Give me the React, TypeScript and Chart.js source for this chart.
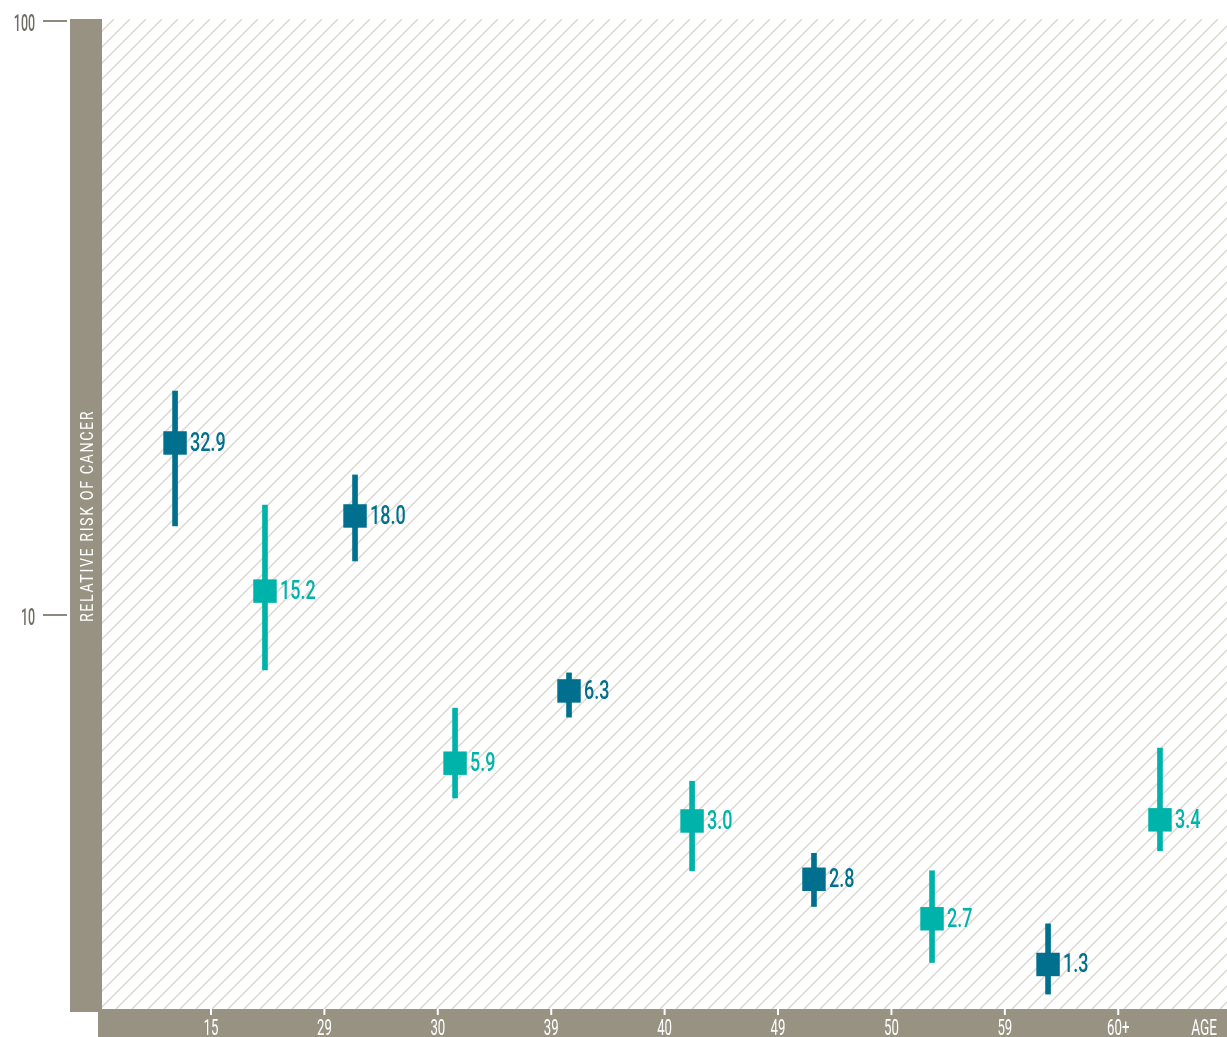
import React, { useEffect, useRef } from 'react';
import { Chart, registerables } from 'chart.js';

Chart.register(...registerables);

// ---- data ----
const ageTickPositions = [1, 2, 3, 4, 5, 6, 7, 8, 9];
const ageTickLabels = ['15', '29', '30', '39', '40', '49', '50', '59', '60+'];
const axisTitleX = 'AGE';
const axisTitleY = 'RELATIVE RISK OF CANCER';

const xPositions = [0.683, 1.476, 2.27, 3.152, 4.157, 5.242, 6.317, 7.358, 8.381, 9.368];
const riskValues = [19.48, 10.97, 14.68, 5.63, 7.45, 4.5, 3.59, 3.08, 2.58, 4.52];
const ciLow = [14.12, 8.08, 12.33, 4.92, 6.73, 3.71, 3.23, 2.6, 2.3, 4.01];
const ciHigh = [23.83, 15.31, 17.21, 6.97, 7.99, 5.25, 3.97, 3.71, 3.02, 5.97];
const valueLabels = ['32.9', '15.2', '18.0', '5.9', '6.3', '3.0', '2.8', '2.7', '1.3', '3.4'];
const seriesKind = ['dark', 'light', 'dark', 'light', 'dark', 'light', 'dark', 'light', 'dark', 'light'];

const yTickValues = [10, 100];
const yTickLabels = ['10', '100'];

// ---- styles ----
const DARK = '#00708e';
const LIGHT = '#00b3aa';
const GRAY = '#979282';
const TICK_TEXT = '#6f6c63';
const HATCH = '#d9d6ce';
const FONT = 'Roboto, "DejaVu Sans", sans-serif';

const colors = seriesKind.map((k) => (k === 'dark' ? DARK : LIGHT));

function drawCondensed(
  ctx: CanvasRenderingContext2D,
  text: string,
  x: number,
  cy: number,
  size: number,
  weight: number,
  color: string,
  scaleX: number,
  align: 'left' | 'right' | 'center'
) {
  ctx.save();
  ctx.font = `${weight} ${size}px ${FONT}`;
  ctx.fillStyle = color;
  ctx.textAlign = 'left';
  ctx.textBaseline = 'alphabetic';
  const w = ctx.measureText(text).width * scaleX;
  let sx = x;
  if (align === 'right') sx = x - w;
  else if (align === 'center') sx = x - w / 2;
  ctx.translate(sx, cy + size * 0.355);
  ctx.scale(scaleX, 1);
  ctx.fillText(text, 0, 0);
  ctx.restore();
}

const decorPlugin = {
  id: 'decor',
  beforeDraw(chart: any) {
    const { ctx, chartArea } = chart;
    const { left, right, top, bottom } = chartArea;
    const W = chart.width;
    const H = chart.height;
    ctx.save();
    ctx.fillStyle = '#ffffff';
    ctx.fillRect(0, 0, W, H);

    // hatch
    ctx.save();
    ctx.beginPath();
    ctx.rect(left, top, right - left, bottom - top);
    ctx.clip();
    ctx.strokeStyle = HATCH;
    ctx.lineWidth = 1.4;
    const h = bottom - top;
    ctx.beginPath();
    for (let k = left - h - 20; k < right + 20; k += 16) {
      ctx.moveTo(k, bottom);
      ctx.lineTo(k + h, top);
    }
    ctx.stroke();
    ctx.restore();

    // gray axis bars
    ctx.fillStyle = GRAY;
    ctx.fillRect(left - 32, top, 32, bottom - top + 3);
    ctx.fillRect(left - 4, bottom, W - left + 4, H - bottom);

    // y ticks
    const yScale = chart.scales.y;
    yTickValues.forEach((v, i) => {
      const py = yScale.getPixelForValue(v);
      ctx.strokeStyle = '#8d897d';
      ctx.lineWidth = 2;
      ctx.beginPath();
      ctx.moveTo(left - 59, py);
      ctx.lineTo(left - 35, py);
      ctx.stroke();
      drawCondensed(ctx, yTickLabels[i], left - 67, py + 2, 23, 500, TICK_TEXT, 0.54, 'right');
    });

    // x ticks
    const xScale = chart.scales.x;
    ageTickPositions.forEach((v, i) => {
      const px = xScale.getPixelForValue(v);
      ctx.strokeStyle = '#ffffff';
      ctx.lineWidth = 2;
      ctx.beginPath();
      ctx.moveTo(px, bottom);
      ctx.lineTo(px, bottom + 6);
      ctx.stroke();
      drawCondensed(ctx, ageTickLabels[i], px, bottom + 18, 22, 400, '#ffffff', 0.6, 'center');
    });
    drawCondensed(ctx, axisTitleX, right - 10, bottom + 18, 22, 400, '#ffffff', 0.62, 'right');

    // y title (rotated)
    ctx.save();
    ctx.translate(left - 15, (top + bottom) / 2 + 2);
    ctx.rotate(-Math.PI / 2);
    ctx.font = `400 18px ${FONT}`;
    try { (ctx as any).letterSpacing = '2px'; } catch (e) {}
    const tw = ctx.measureText(axisTitleY).width;
    const sc = 212 / tw;
    ctx.scale(sc, 1);
    ctx.fillStyle = '#ffffff';
    ctx.textAlign = 'center';
    ctx.textBaseline = 'alphabetic';
    ctx.fillText(axisTitleY, 0, 18 * 0.355);
    ctx.restore();

    ctx.restore();
  },
  afterDatasetsDraw(chart: any) {
    const { ctx } = chart;
    const xScale = chart.scales.x;
    const yScale = chart.scales.y;
    xPositions.forEach((x, i) => {
      const px = xScale.getPixelForValue(x);
      const py = yScale.getPixelForValue(riskValues[i]);
      drawCondensed(ctx, valueLabels[i], px + 15, py - 1, 25, 500, colors[i], 0.72, 'left');
    });
  },
};

export default function App() {
  const ref = useRef<HTMLCanvasElement | null>(null);

  useEffect(() => {
    document.body.style.margin = '0';
    if (!ref.current) return;
    const chart = new Chart(ref.current, {
      type: 'bar',
      data: {
        datasets: [
          {
            type: 'scatter',
            data: xPositions.map((x, i) => ({ x, y: riskValues[i] })),
            pointStyle: 'rect',
            pointRadius: 16.6,
            pointHoverRadius: 16.6,
            pointBackgroundColor: colors,
            pointBorderWidth: 0,
            showLine: false,
            order: 1,
          } as any,
          {
            type: 'bar',
            data: xPositions.map((x, i) => ({ x, y: [ciLow[i], ciHigh[i]] })),
            backgroundColor: colors,
            borderWidth: 0,
            barThickness: 5,
            order: 2,
          } as any,
        ],
      },
      options: {
        responsive: false,
        animation: false,
        events: [],
        layout: { autoPadding: false, padding: { left: 102, top: 19, right: 0, bottom: 28 } },
        plugins: { legend: { display: false }, tooltip: { enabled: false } },
        scales: {
          x: { type: 'linear', min: 0.0388, max: 9.959, offset: false, display: false },
          y: { type: 'logarithmic', min: 2.171, max: 100.78, display: false },
        },
      } as any,
      plugins: [decorPlugin],
    });
    return () => chart.destroy();
  }, []);

  return (
    <div style={{ width: 1227, height: 1037 }}>
      <canvas ref={ref} width={1227} height={1037} style={{ display: 'block' }} />
    </div>
  );
}
